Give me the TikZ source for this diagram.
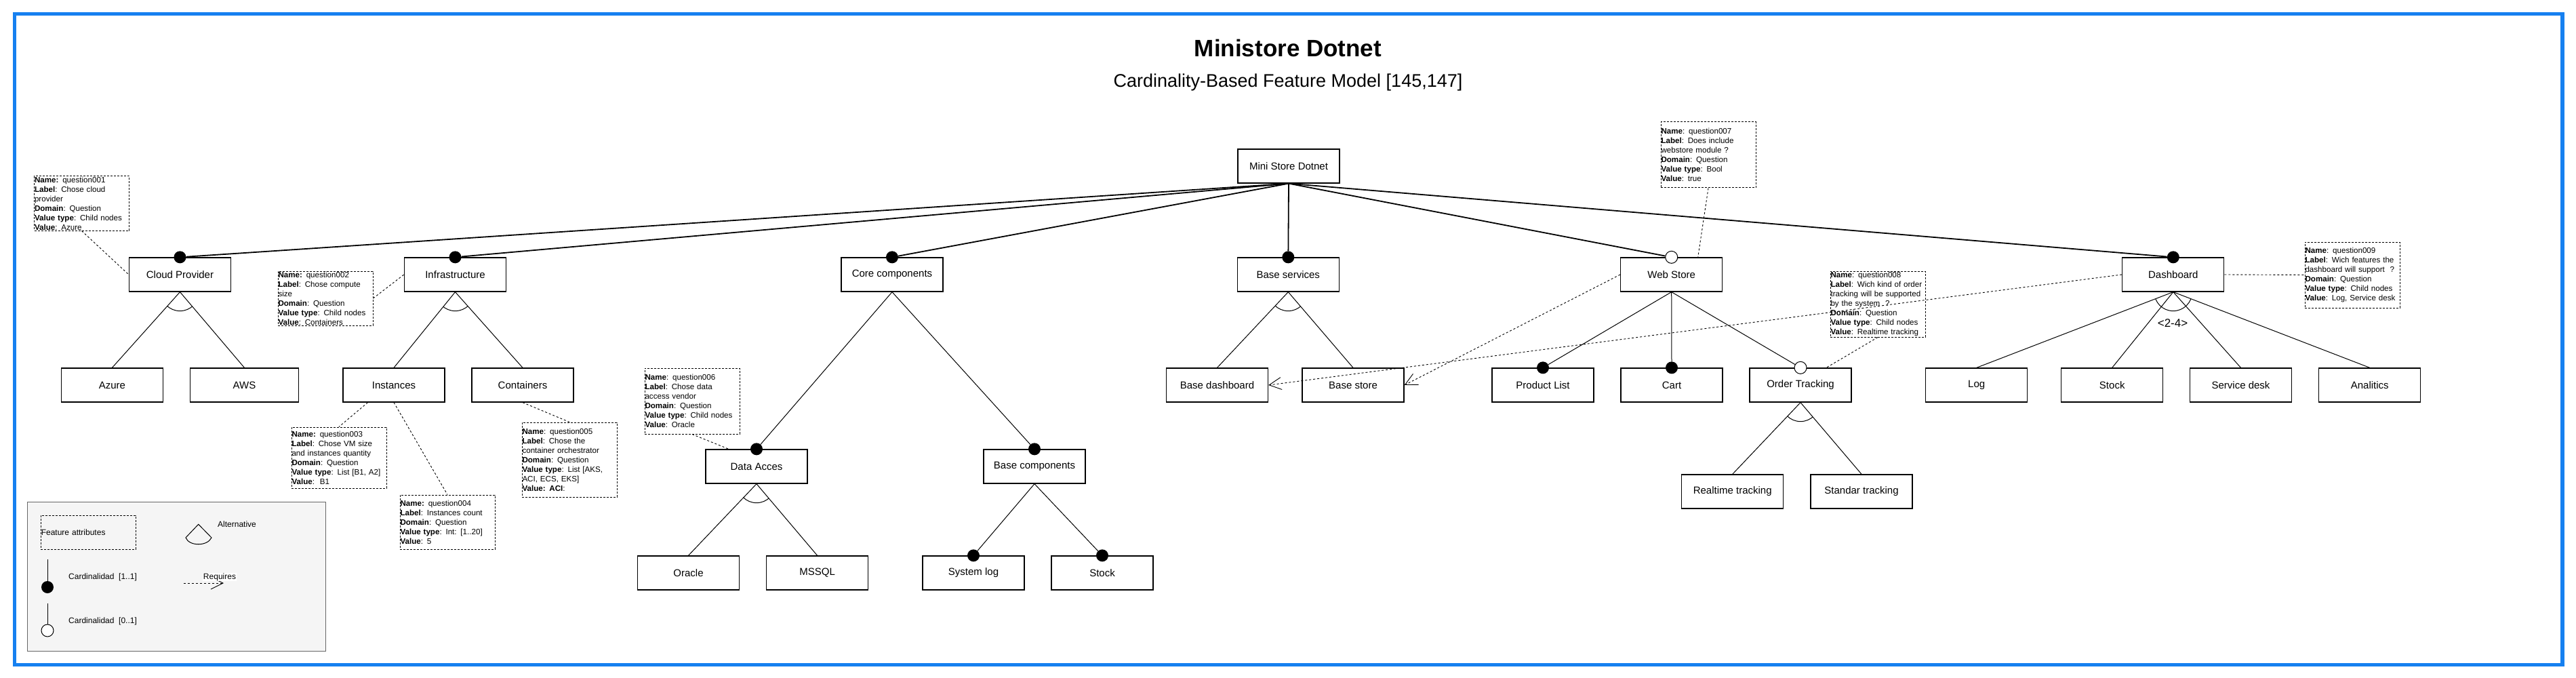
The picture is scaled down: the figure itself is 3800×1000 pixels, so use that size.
\documentclass[tikz,border=0pt]{standalone}
\usepackage{fontspec}
\setmainfont{Liberation Sans}
\usetikzlibrary{arrows.meta, shapes}
\definecolor{frameblue}{RGB}{22,128,240}
\definecolor{legendfill}{HTML}{F5F5F5}
\definecolor{legenddraw}{HTML}{666666}

\begin{document}
\begin{tikzpicture}[x=1pt, y=-1pt]
    \tikzstyle{feat} = [draw, fill=white, line width=1.3pt, minimum width=150pt, minimum height=50pt, inner sep=0pt, font=\fontsize{15}{18}\selectfont]
    \tikzstyle{note} = [draw, dash pattern=on 3pt off 2pt, line width=1pt, text width=139pt, align=left, inner xsep=0.5pt, inner ysep=0pt, font=\fontsize{11.6}{14}\selectfont, execute at begin node={\hyphenpenalty=10000\relax}]
    \tikzstyle{mandatory} = [circle, fill=black, minimum size=18pt, inner sep=0pt]
    \tikzstyle{optional} = [circle, draw, fill=white, line width=1pt, minimum size=18pt, inner sep=0pt]
    \tikzstyle{treeline} = [line width=1pt]
    \tikzstyle{rootline} = [line width=1.8pt]
    \tikzstyle{attrline} = [dash pattern=on 3pt off 3pt, line width=0.9pt]
    \tikzstyle{reqline} = [dash pattern=on 3pt off 3pt, line width=0.9pt, -{Straight Barb[length=18pt, width=18pt]}]
    \tikzstyle{legtext} = [inner sep=0pt, font=\fontsize{12}{14}\selectfont]
    \useasboundingbox (0, 0) rectangle (3800, 1000);
    \draw [frameblue, line width=5.3pt] (21.5, 20.7) rectangle (3780, 980.5);
    \node (title) [font=\fontsize{35}{42}\selectfont\bfseries] at (1900, 71) {Ministore Dotnet};
    \node (subtitle) [font=\fontsize{27}{32}\selectfont] at (1900, 122) {Cardinality-Based Feature Model [145,147]};

    \node (root) [feat] at (1901, 245) {Mini Store Dotnet};
    \node (cp) [feat] at (265.5, 405) {Cloud Provider};
    \node (inf) [feat] at (671.5, 405) {Infrastructure};
    \node (core) [feat] at (1316, 405) {Core components};
    \node (bs) [feat] at (1900.3, 405) {Base services};
    \node (ws) [feat] at (2465.7, 405) {Web Store};
    \node (db) [feat] at (3205.8, 405) {Dashboard};
    \node (az) [feat] at (165.4, 568) {Azure};
    \node (aws) [feat, minimum width=160pt] at (360.5, 568) {AWS};
    \node (ins) [feat] at (581, 568) {Instances};
    \node (cnt) [feat] at (771, 568) {Containers};
    \node (da) [feat] at (1116, 688) {Data Acces};
    \node (bc) [feat] at (1526, 688) {Base components};
    \node (ora) [feat] at (1015.5, 845) {Oracle};
    \node (ms) [feat] at (1205.6, 845) {MSSQL};
    \node (sl) [feat] at (1436, 845) {System log};
    \node (stk) [feat] at (1626, 845) {Stock};
    \node (bd) [feat] at (1795.5, 568) {Base dashboard};
    \node (bst) [feat] at (1996, 568) {Base store};
    \node (pl) [feat] at (2276, 568) {Product List};
    \node (cart) [feat] at (2466, 568) {Cart};
    \node (ot) [feat] at (2656, 568) {Order Tracking};
    \node (rt) [feat] at (2555.7, 725) {Realtime tracking};
    \node (st) [feat] at (2746, 725) {Standar tracking};
    \node (log) [feat] at (2915.7, 568) {Log};
    \node (stk2) [feat] at (3115.7, 568) {Stock};
    \node (sd) [feat] at (3305.5, 568) {Service desk};
    \node (ana) [feat] at (3495.7, 568) {Analitics};

    \node (cpd) [mandatory] at (cp.north) {};
    \node (infd) [mandatory] at (inf.north) {};
    \node (cored) [mandatory] at (core.north) {};
    \node (bsd) [mandatory] at (bs.north) {};
    \node (wsd) [optional] at (ws.north) {};
    \node (dbd) [mandatory] at (db.north) {};
    \node (dad) [mandatory] at (da.north) {};
    \node (bcd) [mandatory] at (bc.north) {};
    \node (sld) [mandatory] at (sl.north) {};
    \node (stkd) [mandatory] at (stk.north) {};
    \node (pld) [mandatory] at (pl.north) {};
    \node (cartd) [mandatory] at (cart.north) {};
    \node (otd) [optional] at (ot.north) {};

    \foreach \c in {cpd, infd, cored, bsd, wsd, dbd}
        \draw [rootline] (root.south) -- (\c);
    \draw [treeline] (cp.south) -- (az.north);
    \draw [treeline] (cp.south) -- (aws.north);
    \draw [treeline] (inf.south) -- (ins.north);
    \draw [treeline] (inf.south) -- (cnt.north);
    \draw [treeline] (core.south) -- (dad);
    \draw [treeline] (core.south) -- (bcd);
    \draw [treeline] (da.south) -- (ora.north);
    \draw [treeline] (da.south) -- (ms.north);
    \draw [treeline] (bc.south) -- (sld);
    \draw [treeline] (bc.south) -- (stkd);
    \draw [treeline] (bs.south) -- (bd.north);
    \draw [treeline] (bs.south) -- (bst.north);
    \draw [treeline] (ws.south) -- (pld);
    \draw [treeline] (ws.south) -- (cartd);
    \draw [treeline] (ws.south) -- (otd);
    \draw [treeline] (ot.south) -- (rt.north);
    \draw [treeline] (ot.south) -- (st.north);
    \draw [treeline] (db.south) -- (log.north);
    \draw [treeline] (db.south) -- (stk2.north);
    \draw [treeline] (db.south) -- (sd.north);
    \draw [treeline] (db.south) -- (ana.north);
    \foreach \p/\a/\b in {cp/az/aws, inf/ins/cnt, da/ora/ms, bs/bd/bst, ot/rt/st, db/log/ana} {
        \begin{scope}
            \clip (\p.south) -- (\a.north) -- (\b.north) -- cycle;
            \draw [treeline] (\p.south) circle (28);
        \end{scope}
    }
    \node (gc) [font=\fontsize{17}{20}\selectfont] at (3205, 477) {<2-4>};

    \node (q1) [note, minimum height=80pt] at (120.5, 300) {\textbf{Name:} question001\\\textbf{Label}: Chose cloud\\provider\\\textbf{Domain}: Question\\\textbf{Value type}: Child nodes\\\textbf{Value}: Azure};
    \node (q2) [note, minimum height=80pt] at (480, 440) {\textbf{Name:} question002\\\textbf{Label}: Chose compute\\size\\\textbf{Domain}: Question\\\textbf{Value type}: Child nodes\\\textbf{Value}: Containers};
    \node (q3) [note, minimum height=90pt] at (500, 675) {\textbf{Name:} question003\\\textbf{Label}: Chose VM size\\and instances quantity\\\textbf{Domain}: Question\\\textbf{Value type}: List [B1, A2]\\\textbf{Value}:\ \ B1};
    \node (q4) [note, minimum height=80pt] at (660, 770) {\textbf{Name:} question004\\\textbf{Label}: Instances count\\\textbf{Domain}: Question\\\textbf{Value type}: Int: [1..20]\\\textbf{Value}: 5};
    \node (q5) [note, minimum height=110pt] at (840, 678) {\textbf{Name}: question005\\\textbf{Label}: Chose the\\container orchestrator\\\textbf{Domain}: Question\\\textbf{Value type}: List [AKS,\\ACI, ECS, EKS]\\\textbf{Value: ACI}:};
    \node (q6) [note, minimum height=97pt] at (1021, 591.5) {\textbf{Name}: question006\\\textbf{Label}: Chose data\\access vendor\\\textbf{Domain}: Question\\\textbf{Value type}: Child nodes\\\textbf{Value}: Oracle};
    \node (q7) [note, minimum height=97pt] at (2520, 228.5) {\textbf{Name}: question007\\\textbf{Label}: Does include\\webstore module ?\\\textbf{Domain}: Question\\\textbf{Value type}: Bool\\\textbf{Value}: true};
    \node (q8) [note, minimum height=97pt] at (2770, 448.5) {\textbf{Name}: question008\\\mbox{\textbf{Label}: Wich kind of order}\\\mbox{tracking will be supported}\\by the system\ \ ?\\\textbf{Domain}: Question\\\textbf{Value type}: Child nodes\\\textbf{Value}: Realtime tracking};
    \node (q9) [note, minimum height=97pt] at (3470, 405.5) {\textbf{Name}: question009\\\mbox{\textbf{Label}: Wich features the}\\\mbox{dashboard will support\ \ ?}\\\textbf{Domain}: Question\\\textbf{Value type}: Child nodes\\\mbox{\textbf{Value}: Log, Service desk}};

    \draw [attrline] (q1.south) -- (cp.west);
    \draw [attrline] (q2.east) -- (inf.west);
    \draw [attrline] ([xshift=-38.5pt]ins.south) -- (q3.north);
    \draw [attrline] (ins.south) -- (q4.north);
    \draw [attrline] (cnt.south) -- (q5.north);
    \draw [attrline] (q6.south) -- ([xshift=-41pt]da.north);
    \draw [attrline] (q7.south) -- ([xshift=39pt]ws.north);
    \draw [attrline] (q8.south) -- ([xshift=38pt]ot.north);
    \draw [attrline] (db.east) -- (q9.west);
    \draw [reqline] (ws.west) -- (bst.east);
    \draw [reqline] (db.west) -- (bd.east);

    \node (legend) [draw=legenddraw, fill=legendfill, line width=1pt, minimum width=440pt, minimum height=220pt, inner sep=0pt] at (260, 850) {};
    \node (lattr) [note, minimum height=50pt, font=\fontsize{12}{14}\selectfont] at (130.3, 785) {Feature attributes};
    \draw [treeline] (292.7, 773.3) -- (274, 793) .. controls (279, 806) and (306, 806) .. (312, 793) -- cycle;
    \node (lalt) [legtext, anchor=west] at (321, 773) {Alternative};
    \coordinate (lm0) at (70, 825);
    \node (lmand) [mandatory] at (70, 866) {};
    \draw [treeline] (lm0) -- (lmand);
    \node (lcard1) [legtext, anchor=west] at (101, 851) {Cardinalidad\ \ [1..1]};
    \coordinate (lo0) at (70, 890);
    \node (lopt) [optional] at (70, 930) {};
    \draw [treeline] (lo0) -- (lopt);
    \node (lcard0) [legtext, anchor=west] at (101, 916) {Cardinalidad\ \ [0..1]};
    \coordinate (lr0) at (271, 860);
    \coordinate (lr1) at (330, 860);
    \draw [reqline] (lr0) -- (lr1);
    \node (lreq) [legtext, fill=white, inner sep=0.5pt] at (324, 851) {Requires};
\end{tikzpicture}
\end{document}
